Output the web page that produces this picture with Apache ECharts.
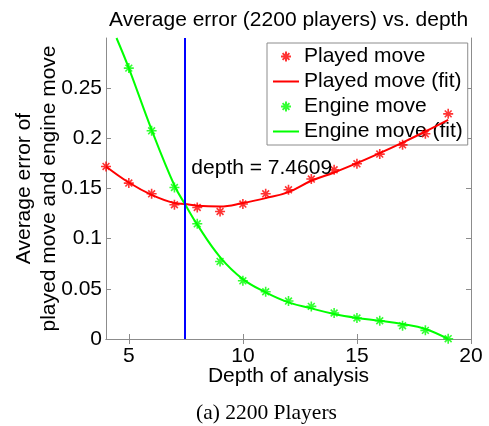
<!DOCTYPE html>
<html>
<head>
<meta charset="utf-8">
<script src="https://cdn.jsdelivr.net/npm/echarts@6/dist/echarts.min.js"></script>
<style>
  html, body { margin: 0; padding: 0; background: #fff; }
  #chart { width: 489px; height: 426px; }
</style>
</head>
<body>
<div id="chart"></div>
<script>
// measured points (depth 4..19)
const depths = [4, 5, 6, 7, 8, 9, 10, 11, 12, 13, 14, 15, 16, 17, 18, 19];
const playedMove = [0.172, 0.1554, 0.1447, 0.1338, 0.1311, 0.1271, 0.1345, 0.1447,
  0.1487, 0.1594, 0.1686, 0.1746, 0.1843, 0.1935, 0.2045, 0.2244];
const engineDepths = [5, 6, 7, 8, 9, 10, 11, 12, 13, 14, 15, 16, 17, 18, 19];
const engineMove = [0.270, 0.2075, 0.151, 0.1148, 0.0773, 0.058, 0.0471, 0.0378,
  0.0325, 0.0259, 0.0209, 0.0182, 0.0132, 0.0086, 0.0003];

// fitted curves
const playedFitX = [4, 5, 6, 7, 7.46, 8, 9, 10, 11, 12, 13, 14, 15, 16, 17, 18, 19];
const playedFit = [0.172, 0.156, 0.1437, 0.1355, 0.1345, 0.1328, 0.1321, 0.1355, 0.1404,
  0.1464, 0.1577, 0.166, 0.1753, 0.1853, 0.1958, 0.2068, 0.2184];
const engineFitX = [4.46, 5, 6, 7, 7.46, 8, 9, 10, 11, 12, 13, 14, 15, 16, 17, 18, 19];
const engineFit = [0.3, 0.270, 0.2085, 0.153, 0.1345, 0.114, 0.0817, 0.0597, 0.0465,
  0.0365, 0.0305, 0.0249, 0.021, 0.0182, 0.0149, 0.01, 0];

const crossDepth = 7.4609;
const noteAt = [7.72, 0.1706];

const xTicks = [5, 10, 15, 20];
const yTicks = [0, 0.05, 0.1, 0.15, 0.2, 0.25];

const font = "Liberation Sans, Arial, Helvetica, sans-serif";
const fs = 21;
const star = "path://M5,0L5,10M0,5L10,5M1.6,1.6L8.4,8.4M1.6,8.4L8.4,1.6";
const dash = "path://M0,0L0,0.01M0,5L26,5M26,10L26,9.99";
const axisGray = "#8c8c8c";

function zip(xs, ys) {
  return xs.map((x, i) => [x, ys[i]]);
}

const chart = echarts.init(document.getElementById("chart"));

const boxAxis = {
  axisLine: { show: true, lineStyle: { color: axisGray, width: 1 } },
  splitLine: { show: false },
};

const option = {
  animation: false,
  title: [
    {
      text: "Average error (2200 players) vs. depth",
      left: 104,
      top: 5,
      textStyle: { fontFamily: font, fontSize: fs, fontWeight: "normal", color: "#000" },
    },
    {
      text: "(a) 2200 Players",
      left: 191,
      top: 397,
      textStyle: { fontFamily: "Liberation Serif, Times New Roman, serif", fontSize: 21.5, fontWeight: "normal", color: "#000" },
    },
  ],
  grid: { left: 106, right: 18, top: 38, bottom: 87, containLabel: false, outerBoundsMode: "none" },
  legend: {
    orient: "vertical",
    left: 267,
    top: 43,
    z: 1,
    padding: [3, 5, 3, 5],
    itemWidth: 26,
    itemHeight: 10,
    itemGap: 4,
    backgroundColor: "#fff",
    borderColor: axisGray,
    borderWidth: 1,
    borderRadius: 0,
    textStyle: { fontFamily: font, fontSize: fs, color: "#000", lineHeight: 21 },
    data: [
      "Played move",
      { name: "Played move (fit)", icon: dash, itemStyle: { color: "#ff0000", borderColor: "#ff0000", borderWidth: 2 } },
      "Engine move",
      { name: "Engine move (fit)", icon: dash, itemStyle: { color: "#00ff00", borderColor: "#00ff00", borderWidth: 2 } },
    ],
  },
  xAxis: [
    {
      ...boxAxis,
      type: "value",
      min: 4,
      max: 20,
      name: "Depth of analysis",
      nameLocation: "middle",
      nameGap: 27,
      nameMoveOverlap: false,
      nameTextStyle: { fontFamily: font, fontSize: fs, color: "#000" },
      axisTick: { inside: true, length: 5, customValues: xTicks, lineStyle: { color: axisGray } },
      axisLabel: { customValues: xTicks, margin: 7, fontFamily: font, fontSize: fs, color: "#000" },
    },
    {
      ...boxAxis,
      type: "value",
      position: "top",
      min: 4,
      max: 20,
      axisTick: { inside: true, length: 5, customValues: xTicks, lineStyle: { color: axisGray } },
      axisLabel: { show: false },
    },
  ],
  yAxis: [
    {
      ...boxAxis,
      type: "value",
      min: 0,
      max: 0.3,
      name: "Average error of\nplayed move and engine move",
      nameLocation: "middle",
      nameGap: 44,
      nameMoveOverlap: false,
      nameTextStyle: { fontFamily: font, fontSize: fs, color: "#000", lineHeight: 25 },
      axisTick: { inside: true, length: 5, customValues: yTicks, lineStyle: { color: axisGray } },
      axisLabel: { customValues: yTicks, margin: 4, fontFamily: font, fontSize: fs, color: "#000" },
    },
    {
      ...boxAxis,
      type: "value",
      position: "right",
      min: 0,
      max: 0.3,
      axisTick: { inside: true, length: 5, customValues: yTicks, lineStyle: { color: axisGray } },
      axisLabel: { show: false },
    },
  ],
  series: [
    {
      name: "Played move (fit)",
      type: "line",
      data: zip(playedFitX, playedFit),
      smooth: 0.4,
      symbol: "none",
      lineStyle: { color: "#ff0000", width: 2 },
      itemStyle: { color: "#ff0000" },
      z: 3,
      markLine: {
        silent: true,
        symbol: ["none", "none"],
        label: { show: false },
        lineStyle: { color: "#0000ff", width: 2, type: "solid" },
        data: [{ xAxis: crossDepth }],
      },
      markPoint: {
        silent: true,
        symbol: "circle",
        symbolSize: 1,
        itemStyle: { color: "rgba(0,0,0,0)" },
        label: {
          show: true,
          position: "right",
          distance: 0,
          formatter: "depth = " + crossDepth,
          fontFamily: font,
          fontSize: fs,
          color: "#000",
        },
        data: [{ coord: noteAt }],
      },
    },
    {
      name: "Engine move (fit)",
      type: "line",
      data: zip(engineFitX, engineFit),
      smooth: 0.4,
      symbol: "none",
      lineStyle: { color: "#00ff00", width: 2 },
      itemStyle: { color: "#00ff00" },
      z: 3,
    },
    {
      name: "Played move",
      type: "scatter",
      data: zip(depths, playedMove),
      symbol: star,
      symbolSize: 10,
      itemStyle: { color: "#ff0000", borderColor: "#ff0000", borderWidth: 1.6 },
      z: 4,
    },
    {
      name: "Engine move",
      type: "scatter",
      data: zip(engineDepths, engineMove),
      symbol: star,
      symbolSize: 10,
      itemStyle: { color: "#00ff00", borderColor: "#00ff00", borderWidth: 1.6 },
      z: 4,
    },
  ],
};

chart.setOption(option);
</script>
</body>
</html>
